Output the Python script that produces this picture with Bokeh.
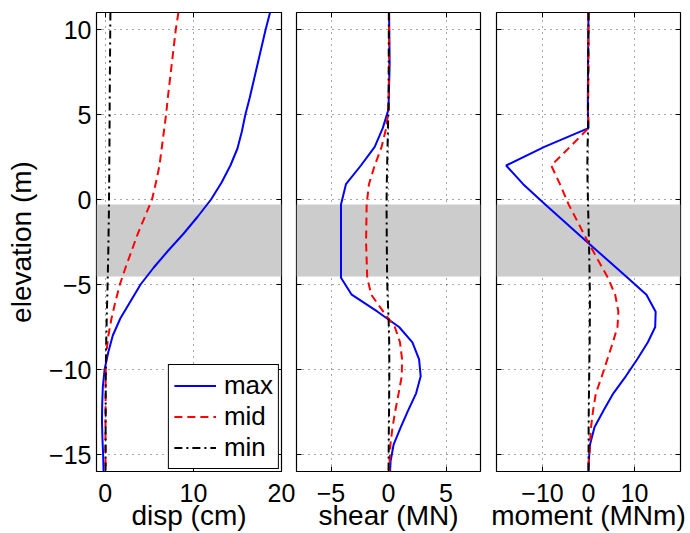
from bokeh.plotting import figure
from bokeh.layouts import row
from bokeh.models import Range1d, FixedTicker, LinearAxis
from bokeh.embed import file_html
from bokeh.resources import INLINE

# ---------------- data ----------------
elev_disp = [11, 10, 8, 6, 5, 4, 3, 2, 1, 0, -1, -2, -3, -4, -5, -6, -7, -8,
             -9, -10, -11, -12, -13, -14, -15, -16]
disp_max = [18.7, 18.2, 17.3, 16.4, 15.9, 15.5, 15.0, 14.2, 13.2, 12.0, 10.5, 8.9,
            7.15, 5.5, 4.0, 2.85, 1.7, 0.85, 0.33, -0.08, -0.28, -0.35, -0.38,
            -0.33, -0.25, -0.2]
disp_mid = [8.3, 8.0, 7.55, 7.1, 6.9, 6.65, 6.4, 6.15, 5.75, 5.3, 4.5, 3.7, 3.0,
            2.3, 1.65, 1.15, 0.7, 0.35, 0.12, 0.05, 0.03, 0.03, 0.02, 0.02, 0.02, 0.02]
disp_min = [0.58, 0.56, 0.53, 0.5, 0.49, 0.48, 0.47, 0.45, 0.44, 0.42, 0.4, 0.37,
            0.34, 0.3, 0.26, 0.21, 0.16, 0.12, 0.08, 0.06, 0.05, 0.04, 0.04, 0.03,
            0.03, 0.03]

elev_force = [11, 8, 5.3, 4.2, 3.1, 2.0, 0.9, -0.3, -2.5, -4.6, -5.6, -6.6, -7.5,
              -8.4, -9.4, -10.4, -11.4, -12.4, -13.4, -14.4, -15.4, -16]
shear_max = [0.05, 0.1, 0.0, -0.5, -1.2, -2.4, -3.7, -4.13, -4.13, -4.13, -3.2,
             -0.95, 0.92, 2.08, 2.66, 2.8, 2.4, 1.71, 1.06, 0.45, 0.18, 0.14]
shear_mid = [0.05, 0.05, 0.0, -0.2, -0.6, -1.2, -1.7, -1.9, -1.95, -1.85, -1.5,
             -0.45, 0.55, 1.0, 1.18, 1.15, 0.88, 0.6, 0.35, 0.17, 0.1, 0.08]
shear_min = [0.03, 0.02, 0.0, -0.05, -0.08, -0.12, -0.15, -0.17, -0.15, -0.12,
             -0.08, -0.02, 0.03, 0.06, 0.07, 0.07, 0.06, 0.05, 0.03, 0.02, 0.01, 0.0]
moment_max = [0.0, -0.1, -0.15, 0.0, -9.6, -17.9, -14.2, -9.4, -0.3, 8.5, 12.6,
              14.6, 14.5, 12.9, 10.6, 8.1, 5.4, 3.3, 1.3, 0.35, 0.05, 0.0]
moment_mid = [0.0, 0.0, -0.1, 0.0, -4.0, -8.1, -6.2, -4.3, -0.1, 4.2, 5.8, 6.5,
              6.3, 5.3, 4.1, 2.9, 1.6, 1.0, 0.55, 0.3, 0.08, 0.0]
moment_min = [0.0, -0.05, -0.1, -0.1, -0.2, -0.25, -0.2, -0.1, 0.1, 0.25, 0.3,
              0.3, 0.28, 0.25, 0.2, 0.15, 0.1, 0.06, 0.03, 0.02, 0.01, 0.0]

band_bottom = [-4.55]
band_top = [-0.3]

y_ticks = [-15, -10, -5, 0, 5, 10]
y_tick_labels = ["\u221215", "\u221210", "\u22125", "0", "5", "10"]
disp_ticks = [0, 10, 20]
disp_tick_labels = ["0", "10", "20"]
shear_ticks = [-5, 0, 5]
shear_tick_labels = ["\u22125", "0", "5"]
moment_ticks = [-10, 0, 10]
moment_tick_labels = ["\u221210", "0", "10"]

series_names = ["max", "mid", "min"]

# ---------------- style ----------------
FONT = "Liberation Sans"
H = 533
TOP = 12
BOTTOM = 61
styles = [dict(color="#0000ff", line_width=2, line_dash="solid"),
          dict(color="#ff0000", line_width=2, line_dash="8 5"),
          dict(color="#000000", line_width=2, line_dash="8 4 2 4")]


def make_panel(width, xr, xticks, xtick_labels, xlabel, mbl, mbr, show_y):
    p = figure(width=width, height=H, x_range=Range1d(*xr),
               y_range=Range1d(-16, 11), output_backend="svg",
               toolbar_location=None, min_border_left=mbl,
               min_border_right=mbr, min_border_top=TOP,
               min_border_bottom=BOTTOM)
    p.outline_line_color = "black"
    p.outline_line_width = 1.2
    p.outline_line_alpha = 1.0
    p.background_fill_color = "white"
    p.border_fill_color = "white"

    xa = p.xaxis[0]
    xa.ticker = FixedTicker(ticks=xticks)
    xa.major_label_overrides = {t: l for t, l in zip(xticks, xtick_labels)}
    xa.axis_label = xlabel
    ya = p.yaxis[0]
    ya.ticker = FixedTicker(ticks=y_ticks)
    if show_y:
        ya.major_label_overrides = {t: l for t, l in zip(y_ticks, y_tick_labels)}
        ya.axis_label = "elevation (m)"
        ya.major_label_standoff = 5
        ya.axis_label_standoff = 9
    for ax in (xa, ya):
        ax.major_tick_in = 5
        ax.major_tick_out = 0
        ax.minor_tick_in = 0
        ax.minor_tick_out = 0
        ax.axis_line_color = None
        ax.major_tick_line_color = "black"
        ax.major_tick_line_width = 1
        ax.major_label_text_font = FONT
        ax.major_label_text_color = "black"
        ax.major_label_text_font_size = "25px"
        ax.axis_label_text_font = FONT
        ax.axis_label_text_font_style = "normal"
        ax.axis_label_text_color = "black"
        ax.axis_label_text_font_size = "28px"
    if not show_y:
        ya.major_label_text_font_size = "0px"
        ya.major_label_standoff = 0
    xa.major_label_standoff = 12
    xa.axis_label_standoff = -5

    # inward ticks on the top and right sides of the box
    for loc, ticks in (("above", xticks), ("right", y_ticks)):
        ax = LinearAxis(ticker=FixedTicker(ticks=ticks),
                        major_label_text_font_size="0px",
                        major_label_standoff=0, axis_line_color=None,
                        major_tick_in=5, major_tick_out=0,
                        minor_tick_in=0, minor_tick_out=0,
                        major_tick_line_color="black")
        p.add_layout(ax, loc)

    for g in (p.xgrid[0], p.ygrid[0]):
        g.grid_line_color = "black"
        g.grid_line_alpha = 0.7
        g.grid_line_dash = "1 5"
        g.grid_line_width = 1

    p.hstrip(y0=band_bottom, y1=band_top, color="#cccccc", line_alpha=0)
    return p


p1 = make_panel(295, (-1, 20), disp_ticks, disp_tick_labels, "disp (cm)",
                96, 14, True)
p2 = make_panel(193, (-8, 8), shear_ticks, shear_tick_labels, "shear (MN)",
                1, 8, False)
p3 = make_panel(202, (-20, 20), moment_ticks, moment_tick_labels,
                "moment (MNm)", 8, 10, False)

for vals, st, name in zip((disp_max, disp_mid, disp_min), styles, series_names):
    p1.line(vals, elev_disp, legend_label=name, **st)
for vals, st in zip((shear_max, shear_mid, shear_min), styles):
    p2.line(vals, elev_force, **st)
for vals, st in zip((moment_max, moment_mid, moment_min), styles):
    p3.line(vals, elev_force, **st)

lg = p1.legend[0]
lg.location = "bottom_right"
lg.margin = 2
lg.padding = 5
lg.spacing = 0
lg.glyph_width = 42
lg.glyph_height = 29
lg.label_height = 29
lg.label_standoff = 8
lg.label_text_font = FONT
lg.label_text_font_size = "26px"
lg.label_text_color = "black"
lg.border_line_color = "black"
lg.border_line_width = 1
lg.border_line_alpha = 1
lg.background_fill_color = "white"
lg.background_fill_alpha = 1

layout = row(p1, p2, p3)
open("out.html", "w").write(file_html(layout, INLINE))
